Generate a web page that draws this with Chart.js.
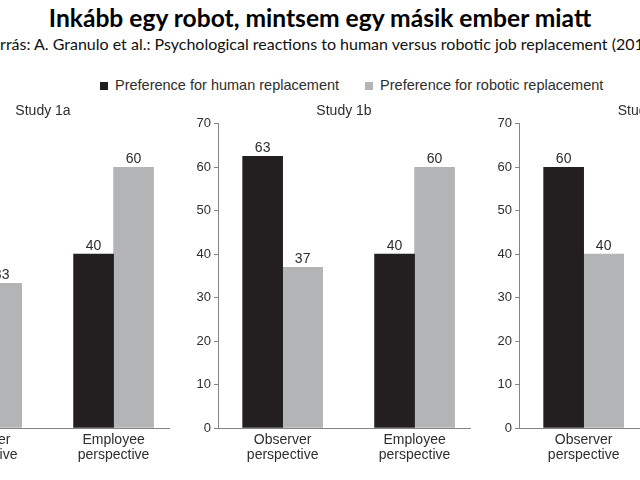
<!DOCTYPE html>
<html lang="hu">
<head>
<meta charset="utf-8">
<title>Inkább egy robot, mintsem egy másik ember miatt</title>
<script src="https://cdn.jsdelivr.net/npm/chart.js@4.4.1/dist/chart.umd.min.js"></script>
<style>
    html, body {
        margin: 0;
        padding: 0;
        background: #fff;
    }
    body {
        position: relative;
        width: 640px;
        height: 480px;
        overflow: hidden;
        font-family: "Liberation Sans", Arial, sans-serif;
        color: #2e2e2e;
    }
    .heading {
        position: absolute;
        left: 320px;
        transform: translateX(-50%);
        white-space: nowrap;
        font-family: Lato, "Open Sans", sans-serif;
    }
    #title {
        top: 4px;
        font-size: 24.6px;
        line-height: 28px;
        font-weight: bold;
        color: #000;
    }
    #subtitle {
        top: 34px;
        font-size: 16px;
        line-height: 19px;
        color: #111;
    }
    #legend {
        position: absolute;
        left: 100px;
        top: 77px;
        display: flex;
        font-size: 14.5px;
        line-height: 17px;
        white-space: nowrap;
    }
    #legend .item {
        display: flex;
        align-items: center;
        margin-right: 26px;
    }
    #legend .box {
        width: 8px;
        height: 8px;
        margin-right: 7px;
    }
    .panel {
        position: absolute;
        top: 98px;
    }
</style>
</head>
<body>
    <div id="title" class="heading">Inkább egy robot, mintsem egy másik ember miatt</div>
    <div id="subtitle" class="heading">Forrás: A. Granulo et al.: Psychological reactions to human versus robotic job replacement (2019)</div>
    <div id="legend"></div>

    <canvas id="chart1a" class="panel" width="301" height="382" style="left:-123px"></canvas>
    <canvas id="chart1b" class="panel" width="301" height="382" style="left:178px"></canvas>
    <canvas id="chart1c" class="panel" width="301" height="382" style="left:479px"></canvas>

<script>
// Données
const categories = ['Observer perspective', 'Employee perspective'];
const seriesNames = ['Preference for human replacement', 'Preference for robotic replacement'];
const studies = ['Study 1a', 'Study 1b', 'Study 1c'];

const human1a = [66.7, 40];
const robotic1a = [33.3, 60];
const human1b = [62.5, 40];
const robotic1b = [37, 60];
const human1c = [60, null];     // groupe "Employee" hors cadre
const robotic1c = [40, null];

const yTicks = [0, 10, 20, 30, 40, 50, 60, 70];

// Couleurs
const HUMAN_COLOR = '#231f20';
const ROBOT_COLOR = '#b3b4b6';
const AXIS_COLOR = '#858585';
const TEXT_COLOR = '#2e2e2e';

let charts = [];

document.addEventListener('DOMContentLoaded', () => {
    charts.push(createPanel('chart1a', studies[0], human1a, robotic1a));
    charts.push(createPanel('chart1b', studies[1], human1b, robotic1b));
    charts.push(createPanel('chart1c', studies[2], human1c, robotic1c));
    buildLegend(charts[1]);
});

// ==================== PLUGINS ====================

// Valeurs au-dessus des barres
const valueLabels = {
    id: 'valueLabels',
    afterDatasetsDraw(chart) {
        const ctx = chart.ctx;
        ctx.save();
        ctx.font = '14px "Liberation Sans", Arial, sans-serif';
        ctx.fillStyle = TEXT_COLOR;
        ctx.textAlign = 'center';
        ctx.textBaseline = 'alphabetic';
        chart.data.datasets.forEach((ds, i) => {
            chart.getDatasetMeta(i).data.forEach((bar, j) => {
                const v = ds.data[j].y;
                if (v === null) return;
                ctx.fillText(Math.round(v), bar.x, bar.y - 4);
            });
        });
        ctx.restore();
    }
};

// ==================== GRAPHIQUES ====================

function toPoints(values) {
    return values.map((v, i) => ({ x: i, y: v }));
}

function createPanel(canvasId, studyName, human, robotic) {
    const ctx = document.getElementById(canvasId).getContext('2d');
    return new Chart(ctx, {
        type: 'bar',
        data: {
            datasets: [{
                label: seriesNames[0],
                data: toPoints(human),
                backgroundColor: HUMAN_COLOR
            }, {
                label: seriesNames[1],
                data: toPoints(robotic),
                backgroundColor: ROBOT_COLOR
            }]
        },
        options: {
            responsive: false,
            animation: false,
            barThickness: 40,
            layout: {
                padding: { right: 9 }
            },
            plugins: {
                legend: { display: false },
                tooltip: { enabled: false },
                title: {
                    display: true,
                    text: studyName,
                    fullSize: false,
                    color: TEXT_COLOR,
                    font: { family: '"Liberation Sans", Arial, sans-serif', size: 14, weight: 'normal' },
                    padding: { top: 5, bottom: 4 }
                }
            },
            scales: {
                x: {
                    type: 'linear',
                    offset: false,
                    min: -0.49,
                    max: 1.42,
                    afterBuildTicks: (scale) => {
                        scale.ticks = categories.map((c, i) => ({ value: i }));
                    },
                    afterFit: (scale) => { scale.height = 52; },
                    grid: { display: false, drawTicks: false, offset: false },
                    border: { display: true, color: AXIS_COLOR, width: 1 },
                    ticks: {
                        autoSkip: false,
                        maxRotation: 0,
                        padding: 4,
                        color: TEXT_COLOR,
                        font: { family: '"Liberation Sans", Arial, sans-serif', size: 14, lineHeight: 1.1 },
                        callback: (value) => categories[value] ? categories[value].split(' ') : ''
                    }
                },
                y: {
                    min: yTicks[0],
                    max: yTicks[yTicks.length - 1],
                    afterFit: (scale) => { scale.width = 40; },
                    grid: { drawOnChartArea: false, color: AXIS_COLOR, tickLength: 4 },
                    border: { display: true, color: AXIS_COLOR, width: 1 },
                    ticks: {
                        stepSize: yTicks[1] - yTicks[0],
                        padding: 3,
                        color: TEXT_COLOR,
                        font: { family: '"Liberation Sans", Arial, sans-serif', size: 13 }
                    }
                }
            }
        },
        plugins: [valueLabels]
    });
}

// Légende commune (HTML)
function buildLegend(chart) {
    const legend = document.getElementById('legend');
    const items = chart.options.plugins.legend.labels.generateLabels(chart);
    items.forEach(item => {
        const el = document.createElement('div');
        el.className = 'item';
        const box = document.createElement('span');
        box.className = 'box';
        box.style.background = item.fillStyle;
        const txt = document.createElement('span');
        txt.textContent = item.text;
        el.appendChild(box);
        el.appendChild(txt);
        legend.appendChild(el);
    });
}
</script>
</body>
</html>
